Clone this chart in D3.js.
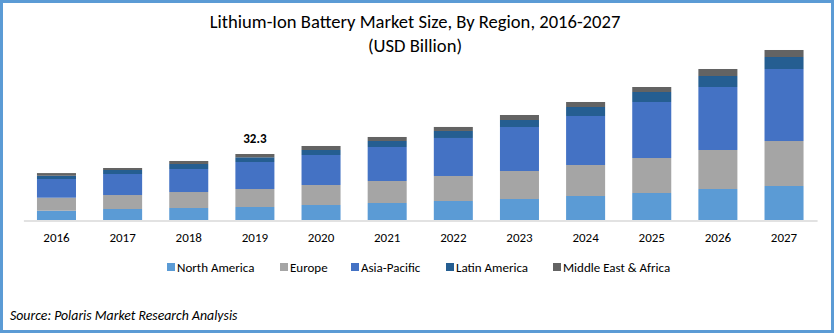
<!DOCTYPE html>
<html>
<head>
<meta charset="utf-8">
<script src="https://cdn.jsdelivr.net/npm/d3@7"></script>
<style>
  html, body { margin: 0; padding: 0; background: #fff; }
  svg { display: block; font-family: Calibri, Carlito, Lato, sans-serif; }
</style>
</head>
<body>
<div class="marketChart"></div>
<script>
// market size by region, USD billion
const years = ['2016', '2017', '2018', '2019', '2020', '2021', '2022', '2023', '2024', '2025', '2026', '2027'];
const regions = ['North America', 'Europe', 'Asia-Pacific', 'Latin America', 'Middle East & Africa'];
const northAmerica = [4.55, 5.38, 5.87, 6.36, 7.34, 8.32, 9.30, 10.28, 11.75, 13.21, 15.17, 16.64];
const europe       = [6.36, 6.85, 7.83, 8.81, 9.79, 10.77, 12.24, 13.70, 15.17, 17.13, 19.09, 22.02];
const asiaPacific  = [9.15, 10.28, 11.26, 13.21, 14.68, 16.64, 18.60, 21.53, 23.98, 27.41, 30.83, 35.24];
const latinAmerica = [1.60, 1.96, 2.45, 2.30, 2.45, 2.94, 3.43, 3.43, 4.40, 4.89, 5.38, 5.87];
const middleEast   = [1.30, 0.98, 1.47, 1.62, 1.96, 1.96, 1.96, 2.45, 2.45, 2.45, 3.43, 3.43];
const labelledYear = '2019';

const colors = ['#5b9bd5', '#a5a5a5', '#4472c4', '#255e91', '#636363'];

const W = 834, H = 333;

const svg = d3.select('.marketChart')
    .append('svg')
    .attr('width', W)
    .attr('height', H);

// outer frame
svg.append('rect')
    .attr('x', 1.5).attr('y', 1.5)
    .attr('width', W - 3).attr('height', H - 3)
    .attr('fill', '#fff')
    .attr('stroke', '#5b9bd5')
    .attr('stroke-width', 3);

const series = [northAmerica, europe, asiaPacific, latinAmerica, middleEast];
const table = years.map((y, i) => {
    const row = {year: y};
    regions.forEach((r, j) => row[r] = series[j][i]);
    return row;
});
const stacked = d3.stack().keys(regions)(table);

const xScale = d3.scaleBand()
    .domain(years)
    .range([23.4, 817.1])
    .paddingInner(0.41)
    .paddingOuter(0.205);

const yScale = d3.scaleLinear()
    .domain([0, 90])
    .range([220, 220 - 90 * 66 / 32.3]);

const color = d3.scaleOrdinal().domain(regions).range(colors);

svg.append('g')
    .selectAll('g')
    .data(stacked)
    .join('g')
    .attr('fill', d => color(d.key))
    .selectAll('rect')
    .data(d => d)
    .join('rect')
    .attr('x', d => xScale(d.data.year))
    .attr('y', d => yScale(d[1]))
    .attr('width', xScale.bandwidth())
    .attr('height', d => yScale(d[0]) - yScale(d[1]));

// total label
const idx = years.indexOf(labelledYear);
const total = d3.sum(series, s => s[idx]);
svg.append('text')
    .attr('x', xScale(labelledYear) + xScale.bandwidth() / 2)
    .attr('y', yScale(total) - 11)
    .attr('text-anchor', 'middle')
    .attr('font-size', 13)
    .attr('font-weight', 'bold')
    .attr('fill', '#000')
    .text(d3.format('.1f')(total));

const xAxis = d3.axisBottom(xScale).tickSize(0).tickPadding(12);
const gx = svg.append('g')
    .attr('transform', 'translate(0,220.5)')
    .call(xAxis);
gx.select('.domain').attr('stroke', '#d9d9d9').attr('stroke-width', 1.5);
gx.selectAll('text')
    .attr('font-size', 13)
    .attr('font-family', 'Calibri, Carlito, Lato, sans-serif')
    .attr('fill', '#000');

// title
svg.append('text')
    .attr('x', 415).attr('y', 28)
    .attr('text-anchor', 'middle')
    .attr('font-size', 18.6)
    .attr('fill', '#000')
    .text('Lithium-Ion Battery Market Size, By Region, 2016-2027');
svg.append('text')
    .attr('x', 415).attr('y', 52)
    .attr('text-anchor', 'middle')
    .attr('font-size', 18.6)
    .attr('fill', '#000')
    .text('(USD Billion)');

// legend
const legendX = [167, 280, 351, 446, 553];
const legend = svg.append('g')
    .selectAll('g')
    .data(regions)
    .join('g')
    .attr('transform', (d, i) => `translate(${legendX[i]},267)`);
legend.append('rect')
    .attr('x', 0).attr('y', -4)
    .attr('width', 8).attr('height', 8)
    .attr('fill', d => color(d));
legend.append('text')
    .attr('x', 10).attr('y', 4.5)
    .attr('font-size', 13)
    .attr('fill', '#000')
    .text(d => d);

svg.append('text')
    .attr('x', 10).attr('y', 320)
    .attr('font-size', 13.8)
    .attr('font-style', 'italic')
    .attr('fill', '#000')
    .text('Source: Polaris Market Research Analysis');
</script>
</body>
</html>
